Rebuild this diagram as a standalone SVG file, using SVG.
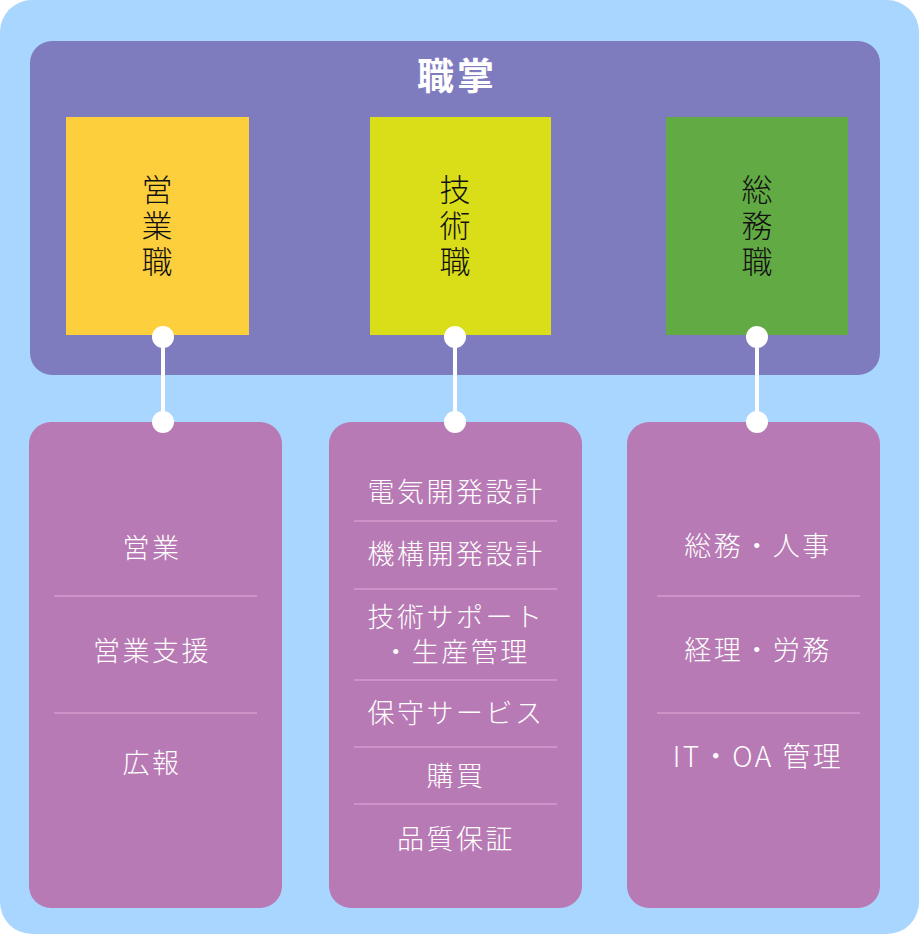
<svg xmlns="http://www.w3.org/2000/svg" width="919" height="934" viewBox="0 0 919 934">
<style>
.jp{font-family:"Noto Sans CJK JP","Noto Sans",sans-serif}
.title{font-size:37px;font-weight:700;fill:#fff;letter-spacing:3px}
.vlab{font-size:31px;font-weight:300;fill:#111;writing-mode:vertical-rl;letter-spacing:5px}
.item{font-size:27px;font-weight:300;fill:#fff;letter-spacing:2.5px}
.sep{stroke:#D49DCF;stroke-width:1.5}
.list{fill:#B77AB4}
.conn line{stroke:#fff;stroke-width:4}
.conn circle{fill:#fff}
</style>
<rect x="0" y="0" width="919" height="934" rx="32" fill="#A9D6FE"/>
<g id="shokusho">
<rect x="30" y="41" width="850" height="334" rx="22" fill="#7F7BBF"/>
<text class="jp title" x="457" y="90" text-anchor="middle">職掌</text>
</g>
<g id="eigyo">
<rect x="66" y="117" width="183" height="218" fill="#FDCF3D"/>
<text class="jp vlab" x="157" y="174">営業職</text>
</g>
<g id="gijutsu">
<rect x="370" y="117" width="181" height="218" fill="#DADE18"/>
<text class="jp vlab" x="455" y="174">技術職</text>
</g>
<g id="somu">
<rect x="666" y="117" width="182" height="218" fill="#62AA44"/>
<text class="jp vlab" x="757" y="174">総務職</text>
</g>
<g id="eigyo-list">
<rect class="list" x="29" y="422" width="253" height="486" rx="22"/>
<line class="sep" x1="54" y1="596" x2="257" y2="596"/>
<line class="sep" x1="54" y1="713" x2="257" y2="713"/>
<g class="jp item" text-anchor="middle">
<text x="152" y="558">営業</text>
<text x="152" y="661">営業支援</text>
<text x="152" y="773">広報</text>
</g>
</g>
<g id="gijutsu-list">
<rect class="list" x="329" y="422" width="253" height="486" rx="22"/>
<line class="sep" x1="354" y1="521" x2="557" y2="521"/>
<line class="sep" x1="354" y1="589" x2="557" y2="589"/>
<line class="sep" x1="354" y1="680" x2="557" y2="680"/>
<line class="sep" x1="354" y1="747" x2="557" y2="747"/>
<line class="sep" x1="354" y1="804" x2="557" y2="804"/>
<g class="jp item" text-anchor="middle">
<text x="456" y="502">電気開発設計</text>
<text x="456" y="564">機構開発設計</text>
<text><tspan x="456" y="627">技術サポート</tspan><tspan x="456" y="662">・生産管理</tspan></text>
<text x="456" y="723">保守サービス</text>
<text x="456" y="786">購買</text>
<text x="456" y="849">品質保証</text>
</g>
</g>
<g id="somu-list">
<rect class="list" x="627" y="422" width="253" height="486" rx="22"/>
<line class="sep" x1="657" y1="596" x2="860" y2="596"/>
<line class="sep" x1="657" y1="713" x2="860" y2="713"/>
<g class="jp item" text-anchor="middle">
<text x="758" y="556">総務・人事</text>
<text x="758" y="660">経理・労務</text>
<text x="758" y="767" style="font-size:28px">IT・OA 管理</text>
</g>
</g>
<g id="connectors" class="conn">
<line x1="163" y1="337" x2="163" y2="422"/>
<circle cx="163" cy="337" r="11"/>
<circle cx="163" cy="422" r="11"/>
<line x1="455" y1="337" x2="455" y2="422"/>
<circle cx="455" cy="337" r="11"/>
<circle cx="455" cy="422" r="11"/>
<line x1="757" y1="337" x2="757" y2="422"/>
<circle cx="757" cy="337" r="11"/>
<circle cx="757" cy="422" r="11"/>
</g>
</svg>
